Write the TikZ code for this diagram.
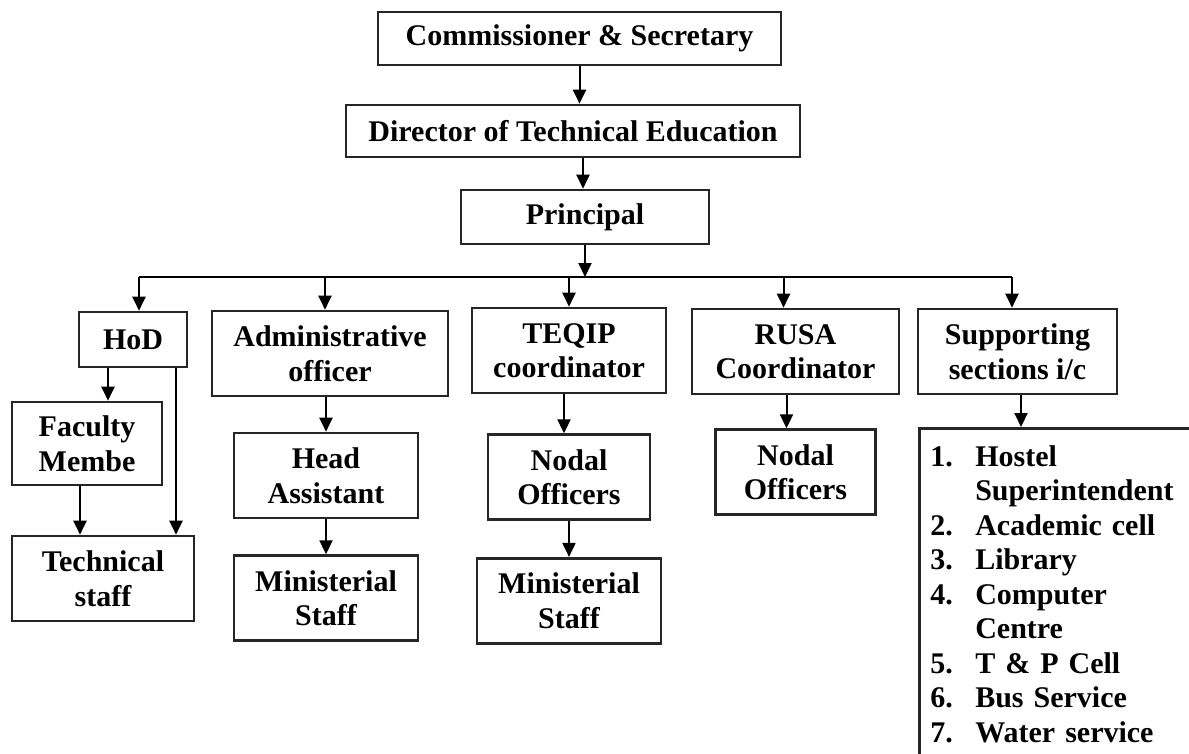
\documentclass[tikz,border=0pt]{standalone}
\usepackage{fontspec}
\setmainfont{Liberation Serif}
\usetikzlibrary{positioning, arrows.meta}

\begin{document}
\begin{tikzpicture}[x=1pt, y=-1pt, font=\fontsize{30}{34.5}\selectfont\bfseries,
    box/.style={draw, black!85, line width=2.6pt, text=black, align=center, inner sep=0pt, minimum height=85pt},
    arrow/.style={-{Triangle[length=14pt, width=13pt]}, line width=2pt},
    link/.style={line width=2pt},
    ]

    \useasboundingbox (0,0) rectangle (1189,753);

    \coordinate (busL) at (139,277);
    \coordinate (busR) at (1012,277);

    \node(comm)[box, minimum width=403pt, minimum height=53pt] at (579.5,38.5){Commissioner \& Secretary};
    \node(dte)[box, minimum width=454pt, minimum height=52pt] at (573,131){Director of Technical Education};
    \node(princ)[box, minimum width=248pt, minimum height=54pt] at (585,217){Principal};

    \node(hod)[box, minimum width=108pt, minimum height=55pt] at (133,339.5){HoD};
    \node(ao)[box, minimum width=236pt] at (330,353.5){Administrative\\officer};
    \node(teqip)[box, minimum width=194pt] at (569,350.5){TEQIP\\coordinator};
    \node(rusa)[box, minimum width=207pt] at (795.5,351.5){RUSA\\Coordinator};
    \node(sup)[box, minimum width=199pt] at (1017.5,351.5){Supporting\\sections i/c};

    \node(fac)[box, minimum width=150pt, minimum height=83pt] at (87,443.5){Faculty\\Membe};
    \node(tech)[box, minimum width=182pt] at (103,578.5){Technical\\staff};
    \node(ha)[box, minimum width=184pt] at (326,475.5){Head\\Assistant};
    \node(msa)[box, minimum width=184pt, below=35pt of ha]{Ministerial\\Staff};
    \node(nodt)[box, minimum width=162pt, below=39pt of teqip]{Nodal\\Officers};
    \node(mst)[box, minimum width=184pt, below=36pt of nodt]{Ministerial\\Staff};
    \node(nodr)[box, minimum width=160pt, below=33pt of rusa]{Nodal\\Officers};

    \node(list)[box, anchor=north west, align=left, text width=258pt, inner xsep=11pt, inner ysep=14pt] at (918,427){%
        \begin{tabular}{@{}p{45pt}@{}l@{}}
        1. & Hostel\\
           & Superintendent\\
        2. & Academic cell\\
        3. & Library\\
        4. & Computer\\
           & Centre\\
        5. & T \& P Cell\\
        6. & Bus Service\\
        7. & Water service
        \end{tabular}};

    \draw[arrow](comm.south) -- (comm.south |- dte.north);
    \draw[arrow]([xshift=-2pt]princ.north |- dte.south) -- ([xshift=-2pt]princ.north);
    \draw[arrow](princ.south) -- (princ.south |- busL);

    \draw[link](busL) -- (busR);
    \draw[arrow](busL) -- (busL |- hod.north);
    \draw[arrow]([xshift=-5pt]ao.north |- busL) -- ([xshift=-5pt]ao.north);
    \draw[arrow](teqip.north |- busL) -- (teqip.north);
    \draw[arrow]([xshift=-12pt]rusa.north |- busL) -- ([xshift=-12pt]rusa.north);
    \draw[arrow](busR) -- (busR |- sup.north);

    \draw[arrow]([xshift=-25pt]hod.south) -- ([xshift=-25pt]hod.south |- fac.north);
    \draw[arrow]([xshift=43pt]hod.south) -- ([xshift=43pt]hod.south |- tech.north);
    \draw[arrow]([xshift=-7pt]fac.south) -- ([xshift=-7pt]fac.south |- tech.north);
    \draw[arrow]([xshift=-4pt]ao.south) -- ([xshift=-4pt]ao.south |- ha.north);
    \draw[arrow](ha) -- (msa);
    \draw[arrow]([xshift=-5pt]teqip.south) -- ([xshift=-5pt]teqip.south |- nodt.north);
    \draw[arrow](nodt) -- (mst);
    \draw[arrow]([xshift=-9pt]rusa.south) -- ([xshift=-9pt]rusa.south |- nodr.north);
    \draw[arrow]([xshift=3.5pt]sup.south) -- ([xshift=3.5pt]sup.south |- list.north);

\end{tikzpicture}
\end{document}
